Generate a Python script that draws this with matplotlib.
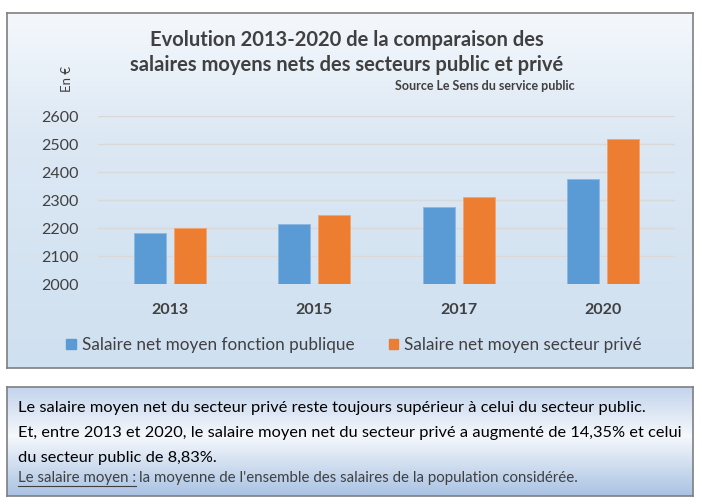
import numpy as np
import matplotlib
matplotlib.use("Agg")
import matplotlib.pyplot as plt
from matplotlib.patches import Patch
from matplotlib.lines import Line2D

# Data
years = ["2013", "2015", "2017", "2020"]
public = [2183, 2215, 2274, 2376]
private = [2201, 2246, 2312, 2517]
yticks = [2000, 2100, 2200, 2300, 2400, 2500, 2600]
labels = ["Salaire net moyen fonction publique", "Salaire net moyen secteur privé"]

BLUE = "#5b9bd5"
ORANGE = "#ed7d31"
GREY = "#404040"

plt.rcParams["font.family"] = ["Lato", "DejaVu Sans"]

W, H = 702, 504
fig = plt.figure(figsize=(W / 100, H / 100), dpi=100)
fig.patch.set_facecolor("white")


def px_box(x0, y0, x1, y1):
    # pixel box (top-left origin) -> figure fraction rect
    return [x0 / W, 1 - y1 / H, (x1 - x0) / W, (y1 - y0) / H]


def gradient_box(rect, stops, zorder=0):
    bg = fig.add_axes(rect, zorder=zorder)
    pos, cols = zip(*stops)
    cols = np.array([matplotlib.colors.to_rgb(c) for c in cols])
    t = np.linspace(0, 1, 256)
    img = np.stack([np.interp(t, pos, cols[:, i]) for i in range(3)], axis=-1)
    bg.imshow(img[:, None, :], aspect="auto", extent=[0, 1, 1, 0])
    bg.set_xticks([])
    bg.set_yticks([])
    for s in bg.spines.values():
        s.set_color("#7f7f7f")
        s.set_linewidth(1.2)
    return bg


# chart frame and text frame backgrounds
gradient_box(px_box(7, 13, 693, 368), [(0, "#f4f8fc"), (0.35, "#dce8f4"), (1, "#cfe0f0")])
gradient_box(px_box(7, 387, 693, 496), [(0, "#c3d4ec"), (0.45, "#f5f8fc"), (1, "#a9c2e3")])

# plot area
ax = fig.add_axes(px_box(98, 116, 675, 284), zorder=2)
ax.set_facecolor("none")
x = np.arange(len(years))
w = 0.222
off = 0.139
ax.bar(x - off, np.array(public) - 2000, w, bottom=2000, color=BLUE,
       edgecolor="#8cb8e2", linewidth=0.6, zorder=3)
ax.bar(x + off, np.array(private) - 2000, w, bottom=2000, color=ORANGE,
       edgecolor="#f3a36f", linewidth=0.6, zorder=3)
ax.set_xlim(-0.5, len(years) - 0.5)
ax.set_ylim(2000, 2600)
ax.set_yticks(yticks)
ax.set_yticklabels([str(v) for v in yticks], fontsize=11.5, color=GREY)
ax.set_xticks(x)
ax.set_xticklabels(years, fontsize=11.5, fontweight="bold", color=GREY)
ax.tick_params(length=0, axis="y", pad=14)
ax.tick_params(length=0, axis="x", pad=14)
ax.grid(axis="y", color="#d9d9d9", linewidth=1, zorder=1)
ax.set_axisbelow(True)
for s in ax.spines.values():
    s.set_visible(False)

# titles
fig.text(347 / W, 1 - 40 / H, "Evolution 2013-2020 de la comparaison des",
         ha="center", va="center", fontsize=14.5, fontweight="bold", color=GREY)
fig.text(347 / W, 1 - 65 / H, "salaires moyens nets des secteurs public et privé",
         ha="center", va="center", fontsize=14.5, fontweight="bold", color=GREY)
fig.text(575 / W, 1 - 86 / H, "Source Le Sens du service public",
         ha="right", va="center", fontsize=9, fontweight="bold", color=GREY)
fig.text(67 / W, 1 - 79 / H, "En €", rotation=90, ha="center", va="center",
         fontsize=9.5, color=GREY)

# legend
handles = [Patch(color=BLUE), Patch(color=ORANGE)]
fig.legend(handles, labels, loc="center", bbox_to_anchor=(354 / W, 1 - 345 / H),
           ncol=2, frameon=False, fontsize=12.3, handlelength=0.55, handleheight=0.55,
           handletextpad=0.35, columnspacing=2.0, labelcolor=GREY)

# comment box
fs = 11.8
fig.text(18 / W, 1 - 408 / H,
         "Le salaire moyen net du secteur privé reste toujours supérieur à celui du secteur public.",
         ha="left", va="center", fontsize=fs, color="black")
fig.text(18 / W, 1 - 433 / H,
         "Et, entre 2013 et 2020, le salaire moyen net du secteur privé a augmenté de 14,35% et celui",
         ha="left", va="center", fontsize=fs, color="black")
fig.text(18 / W, 1 - 458 / H, "du secteur public de 8,83%.",
         ha="left", va="center", fontsize=fs, color="black")

t1 = fig.text(18 / W, 1 - 478 / H, "Le salaire moyen :", ha="left", va="center",
              fontsize=10.8, color="#404040")
fig.canvas.draw()
bb = t1.get_window_extent(fig.canvas.get_renderer())
fig.text(bb.x1 / W + 3 / W, 1 - 478 / H,
         "la moyenne de l'ensemble des salaires de la population considérée.",
         ha="left", va="center", fontsize=10.8, color="#404040")
fig.add_artist(Line2D([bb.x0 / W, bb.x1 / W], [(bb.y0 - 1) / H] * 2,
                      color="#404040", linewidth=0.8))

fig.savefig("out.png", dpi=100)
